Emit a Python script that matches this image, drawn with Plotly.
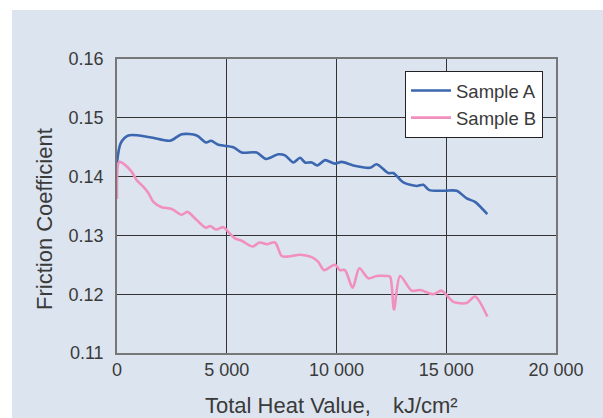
import plotly.graph_objects as go

# Total heat value (kJ/cm^2) and friction coefficient for each sample
heat_a = [0, 170, 515, 1500, 2415, 2950, 3630, 4055, 4285, 4620, 5300, 5680, 6365,
          6790, 7350, 7655, 8035, 8340, 8565, 8870, 9125, 9475, 9930, 10235, 10765,
          11525, 11830, 12360, 12590, 13045, 13650, 13955, 14230, 14945, 15475,
          15930, 16310, 16870]
mu_a = [0.1423, 0.1457, 0.1470, 0.1467, 0.1461, 0.1472, 0.1470, 0.1458, 0.1461,
        0.1454, 0.1450, 0.1441, 0.1441, 0.1430, 0.1438, 0.1436, 0.1424, 0.1432,
        0.1424, 0.1424, 0.1419, 0.1428, 0.1422, 0.1425, 0.1419, 0.1415, 0.1421,
        0.1406, 0.1406, 0.1390, 0.1384, 0.1386, 0.1377, 0.1376, 0.1376, 0.1363,
        0.1357, 0.1336]

heat_b = [0, 105, 365, 670, 895, 1195, 1430, 1655, 2035, 2490, 2945, 3205, 3630,
          4055, 4235, 4510, 4845, 5070, 5375, 5680, 6180, 6485, 6820, 7200, 7500,
          7805, 8335, 8870, 9170, 9430, 9930, 10160, 10385, 10735, 11040, 11450,
          11830, 12285, 12440, 12620, 12895, 13425, 13805, 14410, 14790, 15325,
          15930, 16310, 16870]
mu_b = [0.1362, 0.1425, 0.1420, 0.1408, 0.1394, 0.1383, 0.1372, 0.1357, 0.1348,
        0.1345, 0.1335, 0.1340, 0.1326, 0.1313, 0.1316, 0.1310, 0.1314, 0.1306,
        0.1295, 0.1291, 0.1281, 0.1288, 0.1285, 0.1288, 0.1265, 0.1264, 0.1267,
        0.1263, 0.1255, 0.1241, 0.1250, 0.1241, 0.1241, 0.1211, 0.1244, 0.1227,
        0.1231, 0.1231, 0.1230, 0.1174, 0.1231, 0.1206, 0.1207, 0.1200, 0.1206,
        0.1187, 0.1185, 0.1196, 0.1162]

x_ticks = [0, 5000, 10000, 15000, 20000]
y_ticks = [0.11, 0.12, 0.13, 0.14, 0.15, 0.16]

x_title = "Total Heat Value,\u2003kJ/cm\u00b2"
y_title = "Friction Coefficient"

FONT = "Liberation Sans, Arial, sans-serif"
TXT = "#3a3a3a"

# plot area in pixels (inside a 603 x 418 page)
PW, PH = 439, 294

fig = go.Figure()
fig.add_trace(go.Scatter(x=heat_a, y=mu_a, name="Sample A", mode="lines",
                         line=dict(color="#3b66b0", width=2.6, shape="spline", smoothing=0.8)))
fig.add_trace(go.Scatter(x=heat_b, y=mu_b, name="Sample B", mode="lines",
                         line=dict(color="#f18fbf", width=2.6, shape="spline", smoothing=0.8)))

fig.update_layout(
    width=603, height=418,
    margin=dict(l=117, r=47, t=59, b=65),
    paper_bgcolor="white",
    plot_bgcolor="white",
    separators=". ",
    font=dict(family=FONT, color=TXT, size=18),
    shapes=[dict(type="rect", xref="paper", yref="paper", layer="below",
                 x0=-105 / PW, x1=47 / PW + 1, y0=-65 / PH, y1=1 + 49 / PH,
                 fillcolor="#dce4ef", line=dict(width=0))],
    annotations=[
        dict(text=x_title, xref="paper", yref="paper", x=(331 - 117) / PW,
             y=(353 - 405) / PH, xanchor="center", yanchor="middle", showarrow=False,
             font=dict(size=22, color=TXT)),
        dict(text=y_title, xref="paper", yref="paper", x=(45 - 117) / PW,
             y=(353 - 219) / PH, xanchor="center", yanchor="middle", showarrow=False,
             textangle=-90, font=dict(size=22, color=TXT)),
    ],
    legend=dict(x=1 - 13 / PW, xanchor="right", y=1 - 12 / PH, yanchor="top",
                bgcolor="white", bordercolor="#222", borderwidth=1,
                font=dict(family=FONT, size=18.5, color=TXT),
                tracegroupgap=0, itemwidth=40),
    showlegend=True,
)

fig.update_xaxes(
    range=[0, 20000], tickvals=x_ticks, tickformat=",d",
    showgrid=True, gridcolor="#333", gridwidth=1,
    showline=True, linecolor="#777", linewidth=1.5, mirror=True,
    ticks="", zeroline=False,
    tickfont=dict(size=18, color=TXT),
)
fig.update_yaxes(
    range=[0.11, 0.16], tickvals=y_ticks, tickformat=".2f",
    showgrid=True, gridcolor="#333", gridwidth=1,
    showline=True, linecolor="#777", linewidth=1.5, mirror=True,
    ticks="", zeroline=False,
    tickfont=dict(size=18, color=TXT), ticklabelstandoff=8,
)

fig.write_html("out.html")
